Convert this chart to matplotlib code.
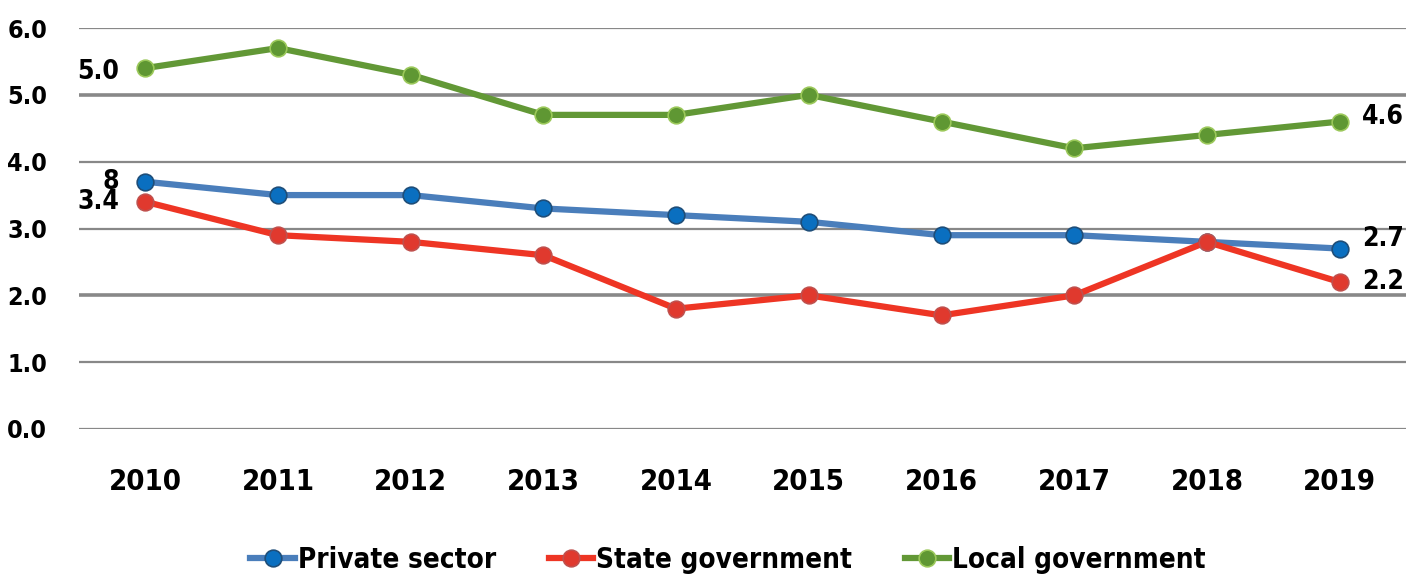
import matplotlib
matplotlib.use("Agg")
import matplotlib.pyplot as plt
from matplotlib.lines import Line2D

plt.rcParams["font.family"] = ["DejaVu Sans"]
plt.rcParams["font.stretch"] = "condensed"
plt.rcParams["font.weight"] = "bold"

years = ["2010", "2011", "2012", "2013", "2014", "2015", "2016", "2017", "2018", "2019"]
private_sector = [3.7, 3.5, 3.5, 3.3, 3.2, 3.1, 2.9, 2.9, 2.8, 2.7]
state_government = [3.4, 2.9, 2.8, 2.6, 1.8, 2.0, 1.7, 2.0, 2.8, 2.2]
local_government = [5.4, 5.7, 5.3, 4.7, 4.7, 5.0, 4.6, 4.2, 4.4, 4.6]
y_ticks = [0, 1, 2, 3, 4, 5, 6]

# labels at the line ends, as printed in the source chart
start_labels = {"private": "8", "state": "3.4", "local": "5.0"}
end_labels = {"private": "2.7", "state": "2.2", "local": "4.6"}

series = [
    ("private", "Private sector", private_sector, "#4a7ebb", "#0a6fc0", "#1f4e79"),
    ("state", "State government", state_government, "#ee3524", "#e0392e", "#c0504d"),
    ("local", "Local government", local_government, "#629836", "#5f9733", "#9bc85a"),
]

fig = plt.figure(figsize=(14.22, 5.77), dpi=100)
ax = fig.add_axes([79 / 1422, 148 / 577, 1327 / 1422, 401 / 577])

x = list(range(len(years)))
for yv in y_ticks:
    lw = 2.6 if yv in (2, 5) else 1.6
    ax.axhline(yv, color="#888888", linewidth=lw, zorder=0)

handles = []
for key, name, vals, lc, mc, ec in series:
    ax.plot(x, vals, color=lc, linewidth=4.5, marker="o", markersize=12,
            markerfacecolor=mc, markeredgecolor=ec, markeredgewidth=1.2,
            solid_capstyle="butt", zorder=3)
    handles.append(Line2D([], [], color=lc, linewidth=4.5, marker="o", markersize=12,
                          markerfacecolor=mc, markeredgecolor=ec, markeredgewidth=1.2,
                          label=name))

# data labels
start_dy = {"private": 0, "state": 0, "local": -3}
end_dy = {"private": 7, "state": 0, "local": 3}
for key, name, vals, lc, mc, ec in series:
    ax.annotate(start_labels[key], (0, vals[0]), xytext=(-19, start_dy[key]),
                textcoords="offset points", ha="right", va="center",
                fontsize=19, fontweight="bold", color="black", zorder=4)
    ax.annotate(end_labels[key], (len(years) - 1, vals[-1]), xytext=(16, end_dy[key]),
                textcoords="offset points", ha="left", va="center",
                fontsize=19, fontweight="bold", color="black", zorder=4)

ax.set_xlim(-0.5, len(years) - 0.5)
ax.set_ylim(0, 6)
ax.set_xticks(x)
ax.set_xticklabels(years, fontsize=21, fontweight="bold")
ax.set_yticks(y_ticks)
ax.set_yticklabels([f"{v:.1f}" for v in y_ticks], fontsize=18, fontweight="bold")
ax.tick_params(axis="both", length=0)
ax.tick_params(axis="x", pad=28)
ax.tick_params(axis="y", pad=23)
for s in ax.spines.values():
    s.set_visible(False)

fig.legend(handles=handles, loc="center", bbox_to_anchor=(728 / 1422, 17 / 577),
           ncol=3, frameon=False, handlelength=1.6,
           handletextpad=0.1, columnspacing=1.9, prop={"weight": "bold", "size": 20})

fig.savefig("out.png", dpi=100)
